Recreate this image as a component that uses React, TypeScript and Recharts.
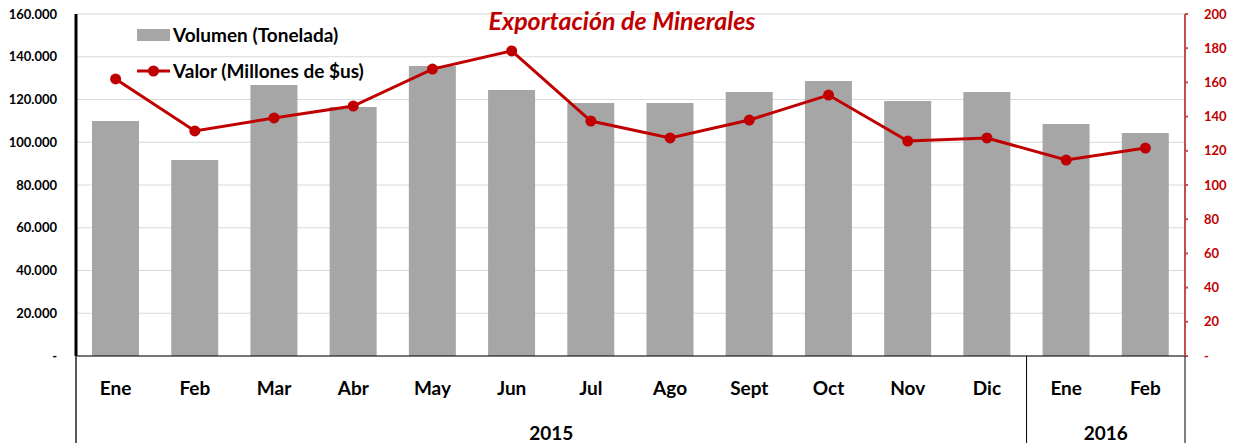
import React from 'react';
import { ComposedChart, Bar, Line, XAxis, YAxis, CartesianGrid, Legend } from 'recharts';

const months = ['Ene', 'Feb', 'Mar', 'Abr', 'May', 'Jun', 'Jul', 'Ago', 'Sept', 'Oct', 'Nov', 'Dic', 'Ene', 'Feb'];
const years = ['2015', '2015', '2015', '2015', '2015', '2015', '2015', '2015', '2015', '2015', '2015', '2015', '2016', '2016'];
const volumen = [110000, 91700, 126800, 116500, 135700, 124400, 118400, 118400, 123500, 128700, 119300, 123500, 108500, 104300];
const valor = [162, 131.6, 139.2, 146.2, 167.8, 178.4, 137.4, 127.5, 138, 152.6, 125.7, 127.5, 114.6, 121.6];
const leftTicks = [0, 20000, 40000, 60000, 80000, 100000, 120000, 140000, 160000];
const rightTicks = [0, 20, 40, 60, 80, 100, 120, 140, 160, 180, 200];

const data = months.map((m, i) => ({ key: `${m}-${years[i]}-${i}`, month: m, year: years[i], volumen: volumen[i], valor: valor[i] }));

const FONT = 'Lato, "Open Sans", sans-serif';
const RED = '#C00000';
const W = 1240;
const H = 443;
const PLOT_LEFT = 76;
const PLOT_RIGHT = 1185;
const BW = (PLOT_RIGHT - PLOT_LEFT) / months.length;

const fmtLeft = (v: number) => {
  if (v === 0) return '-';
  const s = String(v);
  return s.slice(0, s.length - 3) + '.' + s.slice(s.length - 3);
};
const fmtRight = (v: number) => (v === 0 ? '-' : String(v));

const MonthTick = (props: any) => {
  const { x, y, index, payload } = props;
  const i = index as number;
  const m = months[i] ?? payload.value;
  const els: React.ReactNode[] = [];
  els.push(
    <text key="m" x={x} y={y + 39} textAnchor="middle" fontFamily={FONT} fontWeight={700} fontSize={19} fill="#000">
      {m}
    </text>
  );
  if (i === 0) {
    els.push(<line key="l0" x1={x - BW / 2} x2={x - BW / 2} y1={y} y2={H} stroke="#595959" strokeWidth={2} />);
  }
  if (i === 11 || i === months.length - 1) {
    els.push(<line key="lr" x1={x + BW / 2} x2={x + BW / 2} y1={y} y2={H} stroke="#000" strokeWidth={1} />);
  }
  if (i === 5 || i === 12) {
    els.push(
      <text key="y" x={x + BW / 2} y={y + 84} textAnchor="middle" fontFamily={FONT} fontWeight={700} fontSize={19} fill="#000">
        {years[i]}
      </text>
    );
  }
  return <g>{els}</g>;
};

const LegendContent = () => (
  <div style={{ fontFamily: FONT, fontWeight: 700, fontSize: 19, color: '#000', lineHeight: '22px' }}>
    <div style={{ display: 'flex', alignItems: 'center', height: 22 }}>
      <svg width={34} height={14} style={{ marginRight: 2 }}>
        <rect x={0} y={1} width={33} height={12} fill="#A6A6A6" />
      </svg>
      <span>Volumen (Tonelada)</span>
    </div>
    <div style={{ display: 'flex', alignItems: 'center', height: 22, marginTop: 14 }}>
      <svg width={34} height={14} style={{ marginRight: 2 }}>
        <line x1={0} x2={33} y1={7} y2={7} stroke={RED} strokeWidth={3} />
        <circle cx={16.5} cy={7} r={5.5} fill={RED} />
      </svg>
      <span>Valor (Millones de $us)</span>
    </div>
  </div>
);

export default function App() {
  return (
    <div style={{ position: 'absolute', left: 0, top: 0, width: W, height: H, background: '#fff' }}>
      <ComposedChart width={W} height={H} data={data} margin={{ top: 14, right: 0, bottom: 0, left: 0 }}>
        <CartesianGrid yAxisId="left" vertical={false} stroke="#D9D9D9" strokeWidth={1} />
        <XAxis
          dataKey="key"
          height={H - 356}
          tickLine={false}
          tickSize={0}
          tickMargin={0}
          axisLine={{ stroke: '#000', strokeWidth: 1 }}
          tick={<MonthTick />}
          interval={0}
        />
        <YAxis
          yAxisId="left"
          orientation="left"
          width={PLOT_LEFT}
          domain={[0, 160000]}
          ticks={leftTicks}
          tickFormatter={fmtLeft}
          tickLine={false}
          tickSize={0}
          tickMargin={19}
          axisLine={{ stroke: '#000', strokeWidth: 3 }}
          tick={{ fontFamily: FONT, fontWeight: 700, fontSize: 13, fill: '#000' }}
          interval={0}
        />
        <YAxis
          yAxisId="right"
          orientation="right"
          width={W - PLOT_RIGHT}
          domain={[0, 200]}
          ticks={rightTicks}
          tickFormatter={fmtRight}
          tickLine={{ stroke: '#C0504D', strokeWidth: 2 }}
          tickSize={3}
          tickMargin={16}
          axisLine={{ stroke: '#C0504D', strokeWidth: 2 }}
          tick={{ fontFamily: FONT, fontWeight: 700, fontSize: 13, fill: RED }}
          interval={0}
        />
        <Bar yAxisId="left" dataKey="volumen" name="Volumen (Tonelada)" fill="#A6A6A6" barSize={47} isAnimationActive={false} />
        <Line
          yAxisId="right"
          dataKey="valor"
          name="Valor (Millones de $us)"
          stroke={RED}
          strokeWidth={3}
          dot={{ r: 5.5, fill: RED, stroke: RED, strokeWidth: 0 }}
          activeDot={false}
          isAnimationActive={false}
        />
        <Legend
          layout="vertical"
          align="center"
          verticalAlign="middle"
          content={<LegendContent />}
          wrapperStyle={{ position: 'absolute', left: 137, top: 24, width: 300, height: 70 }}
        />
      </ComposedChart>
      <div
        style={{
          position: 'absolute',
          left: 0,
          width: 1244,
          top: 5,
          textAlign: 'center',
          fontFamily: FONT,
          fontWeight: 700,
          fontStyle: 'italic',
          fontSize: 25,
          color: RED,
          pointerEvents: 'none',
        }}
      >
        Exportación de Minerales
      </div>
    </div>
  );
}
